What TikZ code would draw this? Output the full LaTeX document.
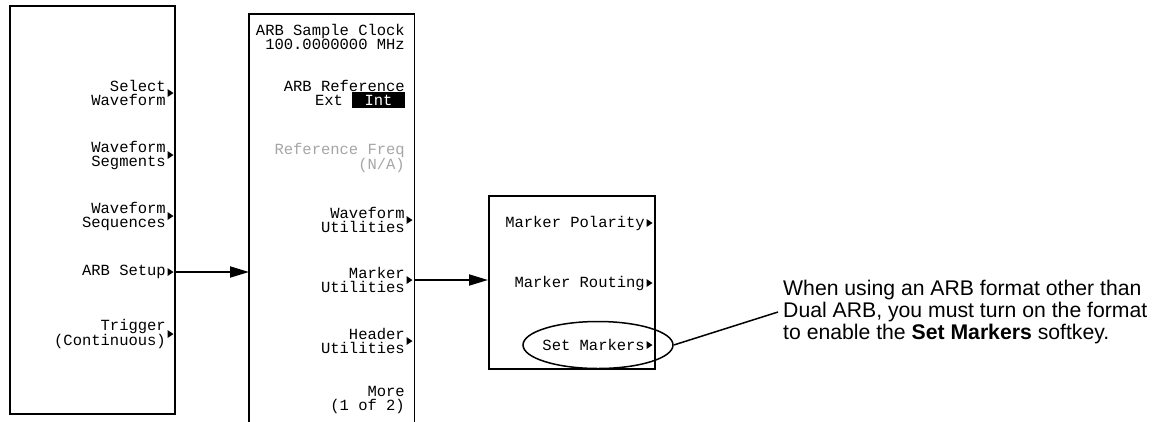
\documentclass[tikz,border=0pt]{standalone}
\usepackage{fontspec}
\setmainfont{Liberation Sans}
\newfontfamily\keyfont{Liberation Mono}
\usetikzlibrary{arrows.meta}
\usetikzlibrary{shapes.geometric}

\begin{document}
\begin{tikzpicture}[x=1pt,y=-1pt]
  \tikzset{panel/.style = {line width=1.8pt}}
  \tikzset{softkey/.style = {anchor=east,align=right,inner sep=0pt,font=\keyfont\fontsize{15.5}{14}\selectfont}}
  \tikzset{dimkey/.style = {softkey,text=black!35}}
  \tikzset{edge/.style = {line width=1.8pt,-{Triangle[length=19pt,width=11pt]}}}
  \tikzset{callout/.style = {line width=1.5pt}}

  \useasboundingbox (0,0) rectangle (1161,421);

  % menu boxes
  \node[panel,draw,minimum width=165pt,minimum height=408pt,anchor=north west] (MenuA) at (9,5) {};
  \node[minimum width=165pt,minimum height=410pt,anchor=north west] (MenuB) at (249,14) {};
  \draw[panel] (MenuB.south west) -- (MenuB.north west) -- (MenuB.north east) -- (MenuB.south east);
  \node[panel,draw,minimum width=166pt,minimum height=173pt,anchor=north west] (MenuC) at (488,195) {};

  % first menu
  \node[softkey] (SelWf) at (166,93) {Select\\Waveform};
  \node[softkey] (WfSeg) at (166,155) {Waveform\\Segments};
  \node[softkey] (WfSeq) at (166,216) {Waveform\\Sequences};
  \node[softkey] (ArbSetup) at (166,272) {ARB Setup};
  \node[softkey] (Trig) at (166,334) {Trigger\\(Continuous)};

  % second menu
  \node[softkey] (Clk) at (405,37) {ARB Sample Clock\\100.0000000 MHz};
  \node[softkey] (ArbRef) at (405,94) {ARB Reference\\Ext \colorbox{black}{\textcolor{white}{\ Int\ }}};
  \node[dimkey] (RefFreq) at (405,158) {Reference Freq\\(N/A)};
  \node[softkey] (WfUtil) at (405,220) {Waveform\\Utilities};
  \node[softkey] (MkUtil) at (405,280) {Marker\\Utilities};
  \node[softkey] (HdUtil) at (405,341) {Header\\Utilities};
  \node[softkey] (More) at (405,400) {More\\(1 of 2)};

  % third menu
  \node[softkey] (MkPol) at (645,223) {Marker Polarity};
  \node[softkey] (MkRout) at (645,283) {Marker Routing};
  \node[softkey] (SetMk) at (645,345) {Set Markers};

  % submenu marks
  \foreach \k in {SelWf,WfSeg,WfSeq,ArbSetup,Trig,WfUtil,MkUtil,HdUtil,MkPol,MkRout,SetMk}
    \fill ([xshift=1.5pt,yshift=4pt]\k.east) -- ++(6pt,-4pt) -- ++(-6pt,-4pt) -- cycle;

  \draw[edge] (ArbSetup.east -| MenuA.east) -- (ArbSetup.east -| MenuB.west);
  \draw[edge] (MkUtil.east -| MenuB.east) -- (MkUtil.east -| MenuC.west);

  % note on Set Markers
  \node[draw,ellipse,line width=1.5pt,minimum width=150pt,minimum height=47pt] (Ring) at (598,345) {};
  \node[anchor=west,align=left,inner sep=0pt,font=\fontsize{21.2}{22}\selectfont] (Note) at (783,312)
    {When using an ARB format other than\\Dual ARB, you must turn on the format\\to enable the \textbf{Set Markers} softkey.};
  \draw[callout] (Ring.east) -- ([xshift=-5pt]Note.west);
\end{tikzpicture}
\end{document}
